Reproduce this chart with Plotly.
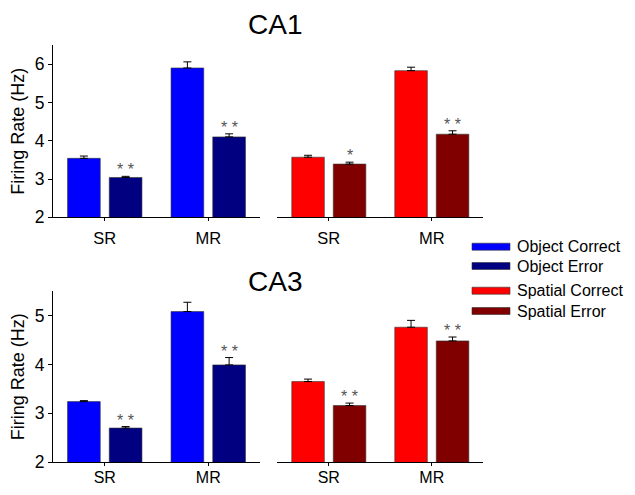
import plotly.graph_objects as go

categories = ["SR", "MR"]

# CA1 means and SEM
ca1_object_correct = [3.54, 5.90]
ca1_object_correct_se = [0.06, 0.16]
ca1_object_error = [3.04, 4.10]
ca1_object_error_se = [0.03, 0.08]
ca1_spatial_correct = [3.57, 5.83]
ca1_spatial_correct_se = [0.05, 0.09]
ca1_spatial_error = [3.39, 4.17]
ca1_spatial_error_se = [0.05, 0.09]

# CA3 means and SEM
ca3_object_correct = [3.24, 5.08]
ca3_object_correct_se = [0.02, 0.19]
ca3_object_error = [2.70, 3.99]
ca3_object_error_se = [0.03, 0.15]
ca3_spatial_correct = [3.65, 4.76]
ca3_spatial_correct_se = [0.05, 0.14]
ca3_spatial_error = [3.16, 4.48]
ca3_spatial_error_se = [0.05, 0.08]

# significance marks on the error bars
ca1_object_stars = ["* *", "* *"]
ca1_spatial_stars = ["*", "* *"]
ca3_object_stars = ["* *", "* *"]
ca3_spatial_stars = ["* *", "* *"]

panel_titles = ["CA1", "CA3"]
series_names = ["Object Correct", "Object Error", "Spatial Correct", "Spatial Error"]

colors = {"Object Correct": "#0000FF", "Object Error": "#000080",
          "Spatial Correct": "#FF0000", "Spatial Error": "#800000"}

FONT = "Liberation Sans, Arial, sans-serif"
OFF = 8                      # page body margin of the browser
W, H = 635 - 2 * OFF, 495 - 2 * OFF


def px(x):
    return (x - OFF) / W


def py(y):
    return 1 - (y - OFF) / H


fig = go.Figure()


def add_bar(name, vals, se, xa, ya):
    fig.add_trace(go.Bar(
        x=categories, y=vals, name=name, xaxis=xa, yaxis=ya,
        marker=dict(color=colors[name], line=dict(color="#333333", width=0.6)),
        error_y=dict(type="data", array=se, arrayminus=[0] * len(se), symmetric=False,
                     color="black", thickness=1, width=4),
        showlegend=False,
    ))


add_bar("Object Correct", ca1_object_correct, ca1_object_correct_se, "x", "y")
add_bar("Object Error", ca1_object_error, ca1_object_error_se, "x", "y")
add_bar("Spatial Correct", ca1_spatial_correct, ca1_spatial_correct_se, "x2", "y2")
add_bar("Spatial Error", ca1_spatial_error, ca1_spatial_error_se, "x2", "y2")
add_bar("Object Correct", ca3_object_correct, ca3_object_correct_se, "x3", "y3")
add_bar("Object Error", ca3_object_error, ca3_object_error_se, "x3", "y3")
add_bar("Spatial Correct", ca3_spatial_correct, ca3_spatial_correct_se, "x4", "y4")
add_bar("Spatial Error", ca3_spatial_error, ca3_spatial_error_se, "x4", "y4")

# domains (reference pixels)
xl = (px(53), px(260))
xr = (px(277.3), px(483.3))
yt = (py(217.3), py(45))
yb = (py(462.3), py(291))

xcommon = dict(showline=True, linecolor="black", linewidth=1, ticks="outside", ticklen=3,
               tickcolor="black", showgrid=False, zeroline=False, automargin=False,
               type="category")
xfont_top = dict(family=FONT, size=16.5, color="black")
xfont_bot = dict(family=FONT, size=16, color="black")
ycommon = dict(showgrid=False, zeroline=False, ticklen=4, tickcolor="black", automargin=False,
               dtick=1, tickfont=dict(family=FONT, size=17.5, color="black"))
ytitle = dict(text="Firing Rate (Hz)", font=dict(family=FONT, size=18, color="black"), standoff=8)

fig.update_layout(
    xaxis=dict(domain=xl, anchor="y", ticklabelstandoff=3, tickfont=xfont_top, **xcommon),
    xaxis2=dict(domain=xr, anchor="y2", ticklabelstandoff=3, tickfont=xfont_top, **xcommon),
    xaxis3=dict(domain=xl, anchor="y3", ticklabelstandoff=-3, tickfont=xfont_bot, **xcommon),
    xaxis4=dict(domain=xr, anchor="y4", ticklabelstandoff=-3, tickfont=xfont_bot, **xcommon),
    yaxis=dict(domain=yt, anchor="x", range=[2, 6.5], showline=True, linecolor="black",
               ticks="outside", title=ytitle, **ycommon),
    yaxis2=dict(domain=yt, anchor="x2", range=[2, 6.5], showline=False, showticklabels=False,
                ticks="", **ycommon),
    yaxis3=dict(domain=yb, anchor="x3", range=[2, 5.5], showline=True, linecolor="black",
                ticks="outside", title=ytitle, **ycommon),
    yaxis4=dict(domain=yb, anchor="x4", range=[2, 5.5], showline=False, showticklabels=False,
                ticks="", **ycommon),
)

fig.update_layout(
    width=W, height=H, margin=dict(l=0, r=0, t=0, b=0, autoexpand=False),
    paper_bgcolor="white", plot_bgcolor="white",
    barmode="group", bargap=0.194, bargroupgap=0.216,
    font=dict(family=FONT, color="black"),
    showlegend=False,
)

# panel titles (top one kept fully inside the figure)
fig.add_annotation(text=panel_titles[0], x=px(275), y=1, xref="paper", yref="paper",
                   xanchor="center", yanchor="top", showarrow=False, borderpad=0,
                   font=dict(family=FONT, size=28, color="black"))
fig.add_annotation(text=panel_titles[1], x=px(275), y=py(281), xref="paper", yref="paper",
                   xanchor="center", yanchor="middle", showarrow=False,
                   font=dict(family=FONT, size=28, color="black"))

# legend drawn as swatches + labels
legend_rows = [246.7, 266.0, 290.7, 311.0]
for name, yc in zip(series_names, legend_rows):
    fig.add_shape(type="rect", xref="paper", yref="paper",
                  x0=px(472), x1=px(510), y0=py(yc + 3.5), y1=py(yc - 3.5),
                  fillcolor=colors[name], line=dict(color="#333333", width=0.6))
    fig.add_annotation(text=name, x=px(516), y=py(yc), xref="paper", yref="paper",
                       xanchor="left", yanchor="middle", showarrow=False, borderpad=0,
                       font=dict(family=FONT, size=16, color="black"))

# significance stars above the error-group bars
slot_px = 41.7 / 2


def add_stars(stars, vals, se, xa, ya):
    for c, s, v, e in zip(categories, stars, vals, se):
        fig.add_annotation(text=s, x=c, y=v + e, xref=xa, yref=ya, showarrow=False,
                           xshift=slot_px, yanchor="bottom", yshift=-4,
                           font=dict(family=FONT, size=16, color="#555555"))


add_stars(ca1_object_stars, ca1_object_error, ca1_object_error_se, "x", "y")
add_stars(ca1_spatial_stars, ca1_spatial_error, ca1_spatial_error_se, "x2", "y2")
add_stars(ca3_object_stars, ca3_object_error, ca3_object_error_se, "x3", "y3")
add_stars(ca3_spatial_stars, ca3_spatial_error, ca3_spatial_error_se, "x4", "y4")

fig.write_html("out.html")
